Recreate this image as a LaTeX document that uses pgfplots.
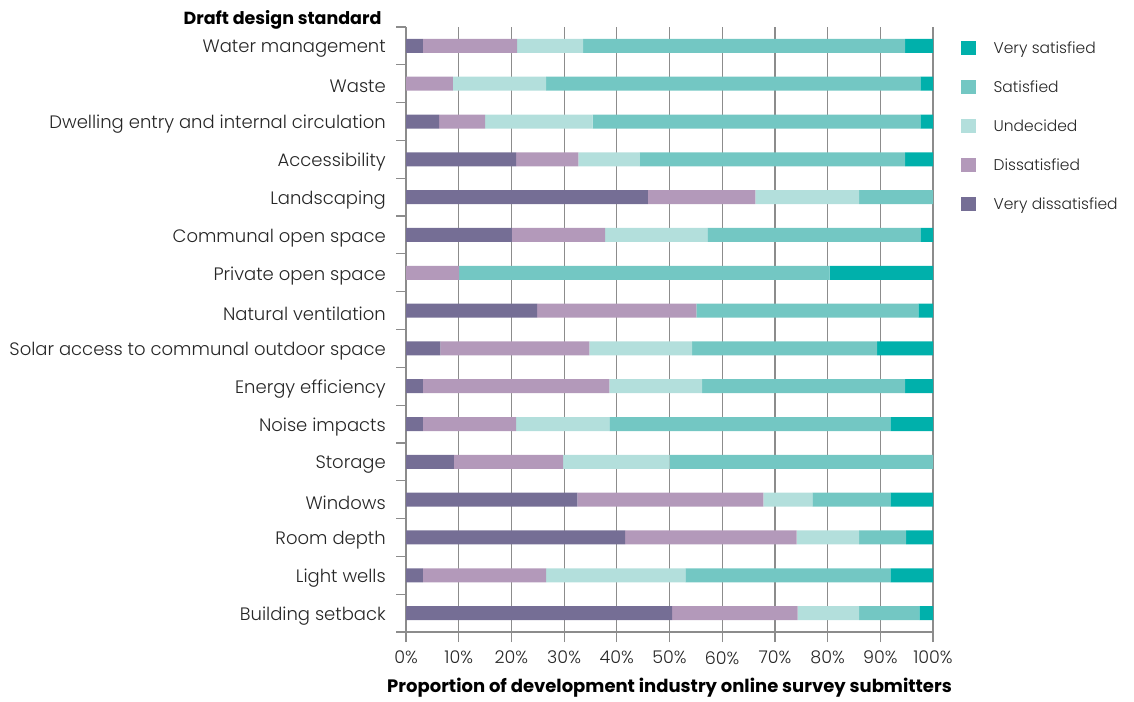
\documentclass[border=0pt]{standalone}
\usepackage{pgfplots}
\pgfplotsset{compat=1.18}
\usepackage{fontspec}
\setmainfont{Poppins}[UprightFont=* Light, BoldFont=* Bold]
\definecolor{cVD}{HTML}{756E95}
\definecolor{cD}{HTML}{B399BA}
\definecolor{cU}{HTML}{B3DFDC}
\definecolor{cS}{HTML}{73C7C3}
\definecolor{cVS}{HTML}{00B0AB}
\definecolor{gridc}{HTML}{8C8C8C}
\begin{document}
\begin{tikzpicture}[x=1pt,y=1pt]
\useasboundingbox (0,0) rectangle (1134,-701);
\node[anchor=east,font=\fontsize{17.5}{20}\selectfont\bfseries] at (385,-20) {Draft design standard};
\begin{axis}[
  at={(406pt,-632pt)}, anchor=south west,
  scale only axis, width=527pt, height=605pt,
  xbar stacked, bar width=14pt,
  xmin=0, xmax=100, ymin=-0.5, ymax=15.5,
  y dir=reverse,
  axis line style={gridc, line width=1.2pt},
  axis x line*=bottom, axis y line*=left,
  xtick={0,10,...,100},
  xticklabels={0\%,10\%,20\%,30\%,40\%,50\%,60\%,70\%,80\%,90\%,100\%},
  xmajorgrids, major grid style={gridc, line width=1.2pt},
  tick style={gridc, line width=1.2pt},
  tick align=outside,
  major tick length=10pt,
  ytick={-0.5,0.5,...,15.5},
  yticklabels={},
  extra y ticks={0,...,15},
  extra y tick labels={Water management,Waste,Dwelling entry and internal circulation,Accessibility,Landscaping,Communal open space,Private open space,Natural ventilation,Solar access to communal outdoor space,Energy efficiency,Noise impacts,Storage,Windows,Room depth,Light wells,Building setback},
  extra y tick style={tick style={draw=none}, yticklabel style={inner sep=0pt, xshift=-10pt, yshift=-3pt, font=\fontsize{18}{20}\selectfont}},
  tick label style={font=\fontsize{17.5}{20}\selectfont, text=black!85},
  xticklabel style={inner sep=0pt, yshift=-9pt},
  xlabel={Proportion of development industry online survey submitters},
  xlabel style={font=\fontsize{18}{20}\selectfont\bfseries, yshift=-10pt},
  /pgf/number format/assume math mode=true,
  reverse legend,
  legend style={draw=none, at={(1.052,0.978)}, anchor=north west, font=\fontsize{15.5}{18}\selectfont, text=black!85, row sep=25pt, inner sep=0pt,
    nodes={inner sep=0pt, text depth=0pt}},
  legend cell align=left,
  legend image code/.code={\fill[#1] (0pt,-7pt) rectangle (15pt,7pt);},
  /tikz/every even column/.append style={column sep=0pt},
  /tikz/every odd column/.append style={column sep=18pt},
]
\addplot[fill=cVD, draw=none] coordinates {(3.2,0) (0,1) (6.3,2) (20.9,3) (45.9,4) (20.1,5) (0,6) (24.9,7) (6.5,8) (3.2,9) (3.2,10) (9.1,11) (32.5,12) (41.6,13) (3.2,14) (50.5,15)};
\addplot[fill=cD, draw=none] coordinates {(17.9,0) (8.9,1) (8.7,2) (11.8,3) (20.4,4) (17.7,5) (10.1,6) (30.2,7) (28.3,8) (35.4,9) (17.7,10) (20.7,11) (35.3,12) (32.5,13) (23.4,14) (23.8,15)};
\addplot[fill=cU, draw=none] coordinates {(12.5,0) (17.7,1) (20.4,2) (11.7,3) (19.7,4) (19.4,5) (0,6) (0,7) (19.5,8) (17.6,9) (17.7,10) (20.2,11) (9.3,12) (11.9,13) (26.4,14) (11.7,15)};
\addplot[fill=cS, draw=none] coordinates {(61.1,0) (71.0,1) (62.2,2) (50.3,3) (14.0,4) (40.4,5) (70.3,6) (42.1,7) (35.1,8) (38.5,9) (53.3,10) (50.0,11) (14.8,12) (8.9,13) (38.9,14) (11.4,15)};
\addplot[fill=cVS, draw=none] coordinates {(5.3,0) (2.4,1) (2.4,2) (5.3,3) (0,4) (2.4,5) (19.6,6) (2.8,7) (10.6,8) (5.3,9) (8.1,10) (0,11) (8.1,12) (5.1,13) (8.1,14) (2.6,15)};
\legend{Very dissatisfied,Dissatisfied,Undecided,Satisfied,Very satisfied}
\end{axis}
\end{tikzpicture}
\end{document}
